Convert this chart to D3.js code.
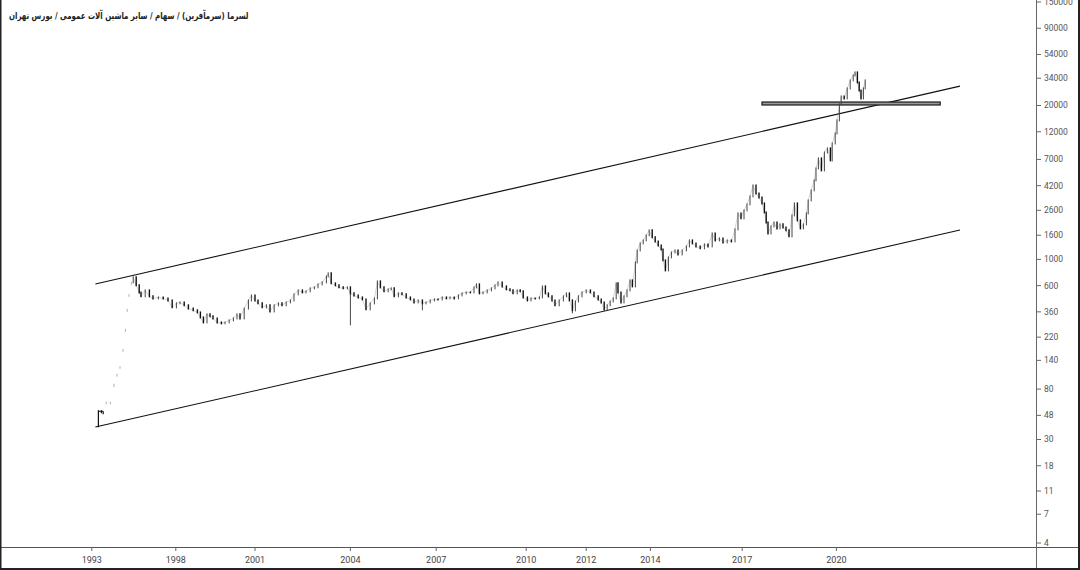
<!DOCTYPE html>
<html>
<head>
<meta charset="utf-8">
<script src="https://cdn.jsdelivr.net/npm/d3@7"></script>
<style>
  html, body { margin: 0; padding: 0; background: #fff; }
  svg { display: block; }
</style>
</head>
<body>
<svg id="chart" width="1080" height="570"></svg>
<script>
// ---------------- DATA ----------------
const titleText = "لسرما (سرمآفرین) / سهام / سایر ماشین آلات عمومی / بورس تهران";

const yTickValues = [150000, 90000, 54000, 34000, 20000, 12000, 7000, 4200, 2600, 1600, 1000, 600, 360, 220, 140, 80, 48, 30, 18, 11, 7, 4];

const yearLabels = ["1993", "1998", "2001", "2004", "2007", "2010", "2012", "2014", "2017", "2020"];
const yearBarIndex = [-9, 131, 263, 422, 565, 715, 815, 922, 1075, 1232];

// early sparse trading (bar index, high, low)
const earlyBar = [2, 7, 10, 15, 22, 28, 33, 38, 43, 47, 50, 53, 57];
const earlyHigh = [53, 53, 52, 62, 62, 88, 107, 124, 173, 256, 378, 505, 640];
const earlyLow = [38, 50, 49, 60, 60, 84, 103, 120, 167, 246, 364, 487, 615];

// main series (bar index, close)
const barIndex = [60, 65, 70, 73, 80, 87, 93, 102, 110, 118, 125, 132, 138, 145, 152, 160, 167, 172, 177, 183, 188, 193, 200, 207, 213, 220, 227, 233, 238, 245, 252, 257, 263, 268, 275, 282, 288, 295, 302, 308, 315, 322, 328, 335, 342, 348, 355, 362, 368, 375, 382, 385, 390, 397, 403, 410, 417, 422, 428, 435, 442, 448, 455, 462, 467, 472, 478, 485, 490, 495, 502, 508, 515, 522, 528, 535, 542, 548, 555, 562, 568, 575, 582, 588, 595, 602, 608, 615, 622, 628, 632, 637, 643, 650, 657, 663, 668, 675, 682, 688, 693, 700, 705, 710, 717, 723, 730, 737, 742, 747, 752, 758, 763, 770, 777, 782, 787, 792, 797, 802, 808, 815, 822, 828, 835, 840, 845, 850, 855, 860, 865, 868, 873, 878, 883, 888, 892, 897, 900, 905, 910, 915, 920, 925, 930, 935, 940, 943, 947, 952, 957, 963, 968, 975, 982, 987, 992, 998, 1005, 1012, 1018, 1025, 1030, 1037, 1043, 1050, 1057, 1063, 1068, 1073, 1078, 1083, 1088, 1093, 1098, 1103, 1108, 1112, 1115, 1118, 1123, 1128, 1133, 1138, 1143, 1148, 1153, 1158, 1162, 1167, 1172, 1177, 1182, 1185, 1190, 1195, 1198, 1202, 1207, 1212, 1217, 1222, 1225, 1230, 1233, 1237, 1240, 1245, 1250, 1255, 1260, 1263, 1267, 1270, 1273, 1277, 1280];
const closes = [705, 603, 526, 487, 547, 487, 468, 477, 468, 450, 393, 425, 433, 409, 384, 371, 356, 323, 293, 343, 330, 317, 293, 288, 293, 305, 317, 343, 317, 384, 450, 496, 450, 425, 393, 409, 363, 409, 425, 409, 433, 450, 506, 547, 526, 537, 569, 580, 615, 639, 718, 762, 627, 603, 580, 569, 580, 516, 496, 477, 459, 378, 425, 468, 652, 580, 537, 558, 569, 487, 516, 506, 477, 459, 433, 450, 425, 433, 450, 459, 459, 477, 468, 477, 468, 496, 516, 526, 526, 580, 615, 516, 526, 547, 569, 603, 639, 591, 558, 547, 516, 547, 537, 477, 450, 468, 468, 477, 591, 516, 487, 450, 409, 450, 487, 516, 450, 371, 441, 487, 526, 547, 526, 487, 459, 433, 378, 409, 441, 468, 627, 526, 433, 487, 547, 665, 591, 943, 1191, 1365, 1447, 1596, 1759, 1535, 1419, 1313, 1215, 981, 807, 1040, 1146, 1191, 1102, 1191, 1288, 1447, 1365, 1288, 1239, 1339, 1288, 1658, 1447, 1505, 1392, 1447, 1419, 1793, 2448, 2222, 2596, 2917, 3408, 4222, 3613, 3343, 2974, 2496, 2055, 1658, 1900, 2055, 1828, 1977, 1864, 1759, 1565, 2354, 2974, 2136, 1828, 1977, 2448, 3153, 3831, 4654, 5877, 7142, 5654, 8026, 8677, 6868, 9561, 11620, 14960, 20430, 23870, 22960, 27890, 32600, 35930, 38080, 31350, 26830, 22960, 27920, 32600];
// long lower shadows (bar index, low)
const wickBar = [422, 542, 792, 845];
const wickLow = [277, 371, 350, 368];

// drawings: channel lines [barStart, valueStart, barEnd, valueEnd]
const upperChannel = [-3, 619, 1438, 29180];
const lowerChannel = [-3, 38.2, 1438, 1770];
// horizontal zone [barStart, barEnd, top, bottom]
const resistanceZone = [1108, 1405, 21400, 20200];

// ---------------- CHART ----------------
const W = 1080, H = 570;
const plotRight = 1036, axisY = 547;
const svg = d3.select("#chart");

const x = d3.scaleLinear().domain([-162, 1563]).range([0, 1035]);
const y = d3.scaleLog().domain([4, 150000]).range([543, 2]);

svg.append("rect").attr("width", W).attr("height", H).attr("fill", "#fff");

const plot = svg.append("g");
plot.append("clipPath").attr("id", "clip")
  .append("rect").attr("x", 0).attr("y", 0).attr("width", plotRight).attr("height", axisY);

const g = plot.append("g").attr("clip-path", "url(#clip)");

// channel lines
[upperChannel, lowerChannel].forEach(c => {
  g.append("line")
    .attr("x1", x(c[0])).attr("y1", y(c[1]))
    .attr("x2", x(c[2])).attr("y2", y(c[3]))
    .attr("stroke", "#111").attr("stroke-width", 1.1);
});

// resistance zone
g.append("rect")
  .attr("x", x(resistanceZone[0]))
  .attr("y", y(resistanceZone[2]))
  .attr("width", x(resistanceZone[1]) - x(resistanceZone[0]))
  .attr("height", y(resistanceZone[3]) - y(resistanceZone[2]))
  .attr("fill", "#9a9a9a").attr("stroke", "#1a1a1a").attr("stroke-width", 1.2);

// early sparse bars
earlyBar.forEach((b, i) => {
  const first = i < 3;
  g.append("line")
    .attr("x1", x(b)).attr("x2", x(b))
    .attr("y1", y(earlyHigh[i]) - (first ? 0 : 0.5)).attr("y2", y(earlyLow[i]) + (first ? 0 : 0.5))
    .attr("stroke", first ? "#111" : "#b0b0b0")
    .attr("stroke-width", first ? 1.2 : 1);
});
g.append("line")
  .attr("x1", x(earlyBar[0])).attr("x2", x(earlyBar[2]))
  .attr("y1", y(earlyHigh[2])).attr("y2", y(earlyHigh[2]))
  .attr("stroke", "#111").attr("stroke-width", 1);

// candles
const candles = barIndex.map((b, i) => {
  const open = i === 0 ? earlyHigh[earlyHigh.length - 1] : closes[i - 1];
  const close = closes[i];
  return { b, open, close };
});

// thin connecting trace between candles
const trace = d3.line().x(d => x(d.b)).y(d => y(d.close));
g.append("path").datum(candles)
  .attr("d", trace).attr("fill", "none")
  .attr("stroke", "#777").attr("stroke-width", 0.5).attr("opacity", 0.6);

const cg = g.append("g");
candles.forEach(d => {
  const top = y(Math.max(d.open, d.close));
  const bot = y(Math.min(d.open, d.close));
  const up = d.close > d.open;
  cg.append("line")
    .attr("x1", x(d.b)).attr("x2", x(d.b))
    .attr("y1", top - 1).attr("y2", bot + 1)
    .attr("stroke", up ? "#444" : "#111")
    .attr("stroke-width", up ? 1 : 1.4);
});
wickBar.forEach((b, i) => {
  const c = candles.find(d => d.b === b);
  cg.append("line")
    .attr("x1", x(b)).attr("x2", x(b))
    .attr("y1", y(Math.min(c.open, c.close))).attr("y2", y(wickLow[i]))
    .attr("stroke", "#333").attr("stroke-width", 0.9);
});

// ---------------- AXES ----------------
svg.append("line").attr("x1", 0).attr("x2", W).attr("y1", axisY + 0.5).attr("y2", axisY + 0.5)
  .attr("stroke", "#555").attr("stroke-width", 1);
svg.append("line").attr("x1", plotRight + 0.5).attr("x2", plotRight + 0.5).attr("y1", 0).attr("y2", H)
  .attr("stroke", "#666").attr("stroke-width", 1);

// y axis
const yAxis = svg.append("g");
yTickValues.forEach(v => {
  const yy = y(v);
  yAxis.append("line").attr("x1", plotRight + 1).attr("x2", plotRight + 5)
    .attr("y1", yy).attr("y2", yy).attr("stroke", "#666").attr("stroke-width", 1);
  yAxis.append("text").attr("x", plotRight + 8).attr("y", yy).attr("dy", "0.35em")
    .attr("font-family", "Roboto, 'Open Sans', sans-serif").attr("font-size", 8.5)
    .attr("fill", "#555").text(v);
});

// x axis
const xAxis = svg.append("g");
yearLabels.forEach((lab, i) => {
  const xx = x(yearBarIndex[i]);
  xAxis.append("line").attr("x1", xx).attr("x2", xx).attr("y1", axisY + 1).attr("y2", axisY + 4)
    .attr("stroke", "#666").attr("stroke-width", 1);
  xAxis.append("text").attr("x", xx).attr("y", 563).attr("text-anchor", "middle")
    .attr("font-family", "Roboto, 'Open Sans', sans-serif").attr("font-size", 9)
    .attr("fill", "#444").text(lab);
});

// title (natural right-to-left rendering)
const titleG = svg.append("g").attr("transform", "translate(9,19)");
const inner = titleG.append("g");
const tt = inner.append("text").attr("x", 0).attr("y", 0)
  .attr("font-family", "'DejaVu Sans', sans-serif").attr("font-size", 9.5)
  .attr("font-weight", "bold").attr("fill", "#222")
  .text(titleText);
const titleWidth = tt.node().getComputedTextLength();
inner.attr("transform", `scale(${240 / titleWidth},1)`);

// outer frame
svg.append("line").attr("x1", 0.75).attr("x2", 0.75).attr("y1", 0).attr("y2", H).attr("stroke", "#222").attr("stroke-width", 1.5);
svg.append("line").attr("x1", W - 1).attr("x2", W - 1).attr("y1", 0).attr("y2", H).attr("stroke", "#222").attr("stroke-width", 2);
svg.append("line").attr("x1", 0).attr("x2", W).attr("y1", H - 1).attr("y2", H - 1).attr("stroke", "#222").attr("stroke-width", 2);
</script>
</body>
</html>
